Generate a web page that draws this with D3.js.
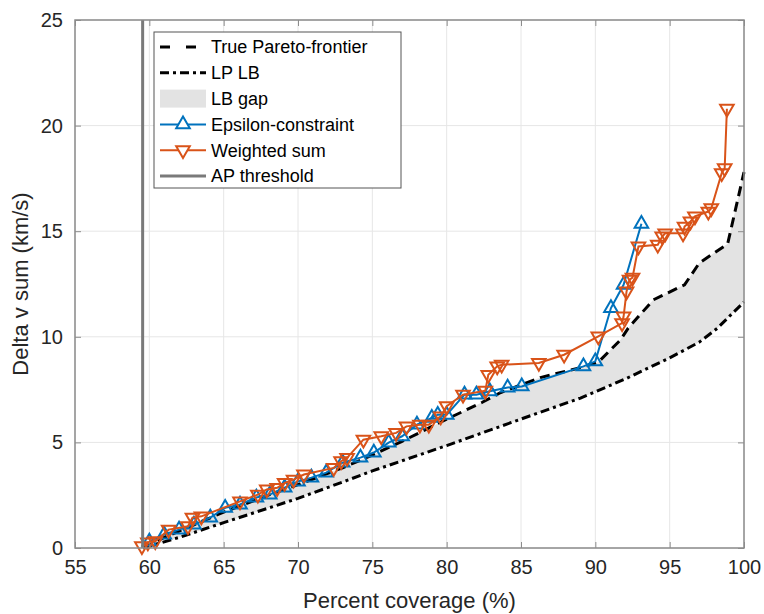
<!DOCTYPE html>
<html>
<head>
<meta charset="utf-8">
<script src="https://cdn.jsdelivr.net/npm/d3@7.9.0/dist/d3.min.js"></script>
<style>
  body { margin: 0; background: #fff; }
  svg { display: block; font-family: 'Liberation Sans', Arial, sans-serif; }
</style>
</head>
<body>
<svg id="chart" width="764" height="614"></svg>
<script>
const xTicks = [55, 60, 65, 70, 75, 80, 85, 90, 95, 100];
const yTicks = [0, 5, 10, 15, 20, 25];

const paretoX = [59.6, 61, 63, 65, 68, 70, 73, 75, 77, 80, 82.4, 83.6, 86.3, 89, 90.2, 91.7, 92.2, 93.9, 96, 97, 98.9, 100];
const paretoY = [0, 0.5, 1.1, 1.7, 2.5, 3.0, 3.8, 4.4, 5.05, 6.1, 6.9, 7.35, 8.07, 8.54, 8.8, 9.86, 10.4, 11.75, 12.46, 13.5, 14.4, 17.8];

const lpX = [59.6, 62, 65, 70, 73.3, 75, 80, 84.9, 89, 92, 95, 97, 98.2, 100];
const lpY = [0, 0.5, 1.2, 2.35, 3.2, 3.65, 4.85, 6.08, 7.1, 8.0, 9.0, 9.75, 10.4, 11.65];

const epsX = [60.0, 61.0, 62.0, 63.0, 64.1, 65.1, 66.1, 67.2, 68.1, 69.1, 70.0, 70.9, 71.9, 73.0, 74.2, 75.1, 76.1, 77.0, 78.0, 79.0, 79.4, 80.0, 81.2, 82.0, 82.9, 84.1, 85.05, 89.2, 90.0, 91.05, 91.9, 93.1];
const epsY = [0.3, 0.64, 0.87, 1.11, 1.44, 1.9, 2.06, 2.39, 2.53, 2.86, 3.15, 3.33, 3.57, 4.04, 4.28, 4.52, 4.99, 5.29, 5.84, 6.16, 6.31, 6.31, 7.26, 7.26, 7.42, 7.6, 7.65, 8.6, 8.84, 11.36, 12.46, 15.35];

const wsX = [59.5, 59.9, 60.4, 61.3, 62.6, 62.9, 63.5, 66.1, 67.3, 67.9, 68.6, 69.1, 69.7, 70.4, 72.4, 72.9, 73.3, 74.4, 75.6, 76.6, 77.3, 78.2, 78.8, 79.6, 80.0, 81.1, 82.6, 82.8, 83.4, 83.7, 86.2, 87.9, 90.2, 91.8, 91.9, 92.1, 92.3, 92.5, 92.9, 94.2, 94.5, 94.7, 95.9, 96.0, 96.4, 96.7, 97.6, 97.8, 98.5, 98.7, 98.85];
const wsY = [0.09, 0.26, 0.32, 0.87, 1.03, 1.44, 1.5, 2.21, 2.53, 2.77, 2.85, 3.08, 3.24, 3.48, 3.79, 4.11, 4.27, 5.13, 5.29, 5.45, 5.76, 5.84, 5.84, 6.23, 6.71, 7.26, 7.45, 8.2, 8.6, 8.68, 8.76, 9.15, 10.02, 10.65, 10.96, 12.15, 12.7, 12.8, 14.28, 14.36, 14.75, 14.9, 14.9, 15.22, 15.46, 15.7, 15.93, 16.09, 17.75, 17.98, 20.8];

const apThreshold = 59.55;

const blue = '#0072BD';
const orange = '#D95319';

const margin = { left: 75, right: 20, top: 20, bottom: 66 };
const width = 764, height = 614;

const svg = d3.select('#chart');

const x = d3.scaleLinear().domain([55, 100]).range([margin.left, width - margin.right]);
const y = d3.scaleLinear().domain([0, 25]).range([height - margin.bottom, margin.top]);

const zip = (xs, ys) => xs.map((v, i) => [v, ys[i]]);
const pareto = zip(paretoX, paretoY);
const lp = zip(lpX, lpY);
const eps = zip(epsX, epsY);
const ws = zip(wsX, wsY);

const line = d3.line().x(d => x(d[0])).y(d => y(d[1]));
const markerSize = 80;

// grid
svg.append('g')
  .selectAll('line')
  .data(xTicks)
  .enter()
  .append('line')
  .attr('x1', d => x(d)).attr('x2', d => x(d))
  .attr('y1', y(0)).attr('y2', y(25))
  .attr('stroke', '#e6e6e6').attr('stroke-width', 1);

svg.append('g')
  .selectAll('line')
  .data(yTicks)
  .enter()
  .append('line')
  .attr('x1', x(55)).attr('x2', x(100))
  .attr('y1', d => y(d)).attr('y2', d => y(d))
  .attr('stroke', '#e6e6e6').attr('stroke-width', 1);

// LB gap fill
const gapPoly = pareto.concat(lp.slice().reverse());
svg.append('path')
  .attr('d', line(gapPoly) + 'Z')
  .attr('fill', '#e3e3e3')
  .attr('stroke', 'none');

svg.append('path')
  .attr('d', line(pareto))
  .attr('fill', 'none')
  .attr('stroke', '#000')
  .attr('stroke-width', 3)
  .attr('stroke-dasharray', '10,6');

svg.append('path')
  .attr('d', line(lp))
  .attr('fill', 'none')
  .attr('stroke', '#000')
  .attr('stroke-width', 3)
  .attr('stroke-dasharray', '9,4,3,4');

function drawSeries(data, color, rotate) {
  svg.append('path')
    .attr('d', line(data))
    .attr('fill', 'none')
    .attr('stroke', color)
    .attr('stroke-width', 2);

  svg.append('g')
    .selectAll('path')
    .data(data)
    .enter()
    .append('path')
    .attr('d', d3.symbol().type(d3.symbolTriangle).size(markerSize))
    .attr('transform', d => `translate(${x(d[0])},${y(d[1])}) rotate(${rotate})`)
    .attr('fill', 'none')
    .attr('stroke', color)
    .attr('stroke-width', 2);
}

drawSeries(eps, blue, 0);
drawSeries(ws, orange, 180);

svg.append('line')
  .attr('x1', x(apThreshold)).attr('x2', x(apThreshold))
  .attr('y1', y(0)).attr('y2', y(25))
  .attr('stroke', '#7a7a7a')
  .attr('stroke-width', 3);

// axes box
const boxColor = '#8c8c8c';
svg.append('rect')
  .attr('x', x(55)).attr('y', y(25))
  .attr('width', x(100) - x(55)).attr('height', y(0) - y(25))
  .attr('fill', 'none')
  .attr('stroke', boxColor)
  .attr('stroke-width', 1.5);

const xAxis = svg.append('g')
  .attr('transform', `translate(0,${y(0)})`)
  .call(d3.axisBottom(x).tickValues(xTicks).tickSizeInner(-6).tickSizeOuter(0).tickPadding(12));
xAxis.select('.domain').remove();
xAxis.selectAll('line').attr('stroke', boxColor);
xAxis.selectAll('text').attr('font-size', 20).attr('fill', '#262626');

const xAxisTop = svg.append('g')
  .attr('transform', `translate(0,${y(25)})`)
  .call(d3.axisTop(x).tickValues(xTicks).tickSizeInner(-6).tickSizeOuter(0).tickFormat(''));
xAxisTop.select('.domain').remove();
xAxisTop.selectAll('line').attr('stroke', boxColor);

const yAxis = svg.append('g')
  .attr('transform', `translate(${x(55)},0)`)
  .call(d3.axisLeft(y).tickValues(yTicks).tickSizeInner(-6).tickSizeOuter(0).tickPadding(12));
yAxis.select('.domain').remove();
yAxis.selectAll('line').attr('stroke', boxColor);
yAxis.selectAll('text').attr('font-size', 20).attr('fill', '#262626');

const yAxisRight = svg.append('g')
  .attr('transform', `translate(${x(100)},0)`)
  .call(d3.axisRight(y).tickValues(yTicks).tickSizeInner(-6).tickSizeOuter(0).tickFormat(''));
yAxisRight.select('.domain').remove();
yAxisRight.selectAll('line').attr('stroke', boxColor);

svg.append('text')
  .attr('x', (x(55) + x(100)) / 2)
  .attr('y', 608)
  .attr('text-anchor', 'middle')
  .attr('font-size', 22)
  .attr('fill', '#262626')
  .text('Percent coverage (%)');

svg.append('text')
  .attr('transform', `translate(28,${(y(0) + y(25)) / 2}) rotate(-90)`)
  .attr('text-anchor', 'middle')
  .attr('font-size', 22)
  .attr('fill', '#262626')
  .text('Delta v sum (km/s)');

// legend
const legend = svg.append('g');
legend.append('rect')
  .attr('x', 154).attr('y', 32)
  .attr('width', 247).attr('height', 156)
  .attr('fill', '#fff')
  .attr('stroke', '#555')
  .attr('stroke-width', 1);

const legendItems = [
  { label: 'True Pareto-frontier', kind: 'pareto' },
  { label: 'LP LB', kind: 'lp' },
  { label: 'LB gap', kind: 'gap' },
  { label: 'Epsilon-constraint', kind: 'eps' },
  { label: 'Weighted sum', kind: 'ws' },
  { label: 'AP threshold', kind: 'ap' },
];

legendItems.forEach((item, i) => {
  const cy = 47 + i * 25.8;
  const g = legend.append('g');
  if (item.kind === 'gap') {
    g.append('rect').attr('x', 160).attr('y', cy - 9).attr('width', 46).attr('height', 18).attr('fill', '#e3e3e3');
  } else {
    const ln = g.append('line').attr('x1', 160).attr('x2', 206).attr('y1', cy).attr('y2', cy);
    if (item.kind === 'pareto') ln.attr('stroke', '#000').attr('stroke-width', 3).attr('stroke-dasharray', '10,16');
    if (item.kind === 'lp') ln.attr('stroke', '#000').attr('stroke-width', 3).attr('stroke-dasharray', '9,4,3,4');
    if (item.kind === 'eps') ln.attr('stroke', blue).attr('stroke-width', 2);
    if (item.kind === 'ws') ln.attr('stroke', orange).attr('stroke-width', 2);
    if (item.kind === 'ap') ln.attr('stroke', '#7a7a7a').attr('stroke-width', 3);
    if (item.kind === 'eps' || item.kind === 'ws') {
      g.append('path')
        .attr('d', d3.symbol().type(d3.symbolTriangle).size(markerSize))
        .attr('transform', `translate(183,${cy}) rotate(${item.kind === 'ws' ? 180 : 0})`)
        .attr('fill', '#fff')
        .attr('stroke', item.kind === 'eps' ? blue : orange)
        .attr('stroke-width', 2);
    }
  }
  g.append('text')
    .attr('x', 211).attr('y', cy)
    .attr('dy', '0.35em')
    .attr('font-size', 18)
    .attr('fill', '#000')
    .text(item.label);
});
</script>
</body>
</html>
